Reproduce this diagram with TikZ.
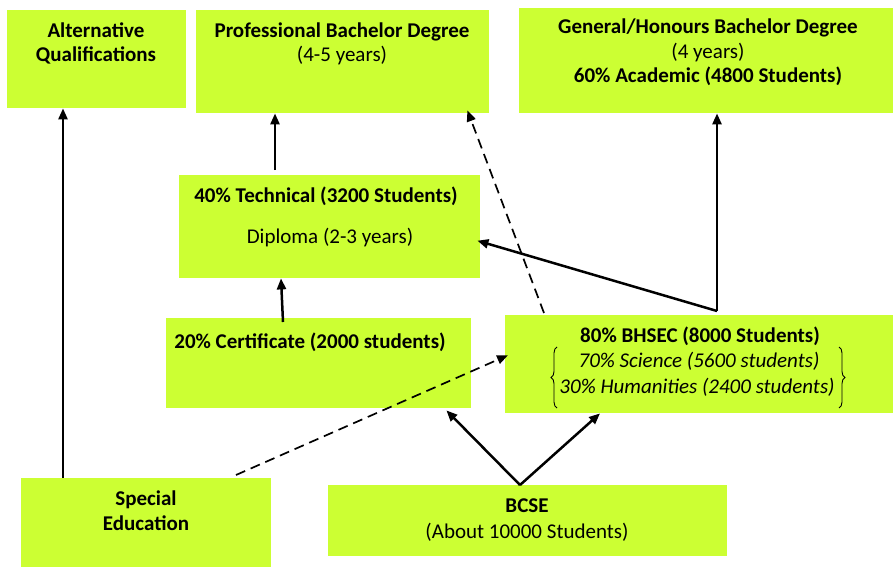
\documentclass[tikz,border=0pt]{standalone}
\usepackage{fontspec}
\setmainfont{Carlito}
\usetikzlibrary{arrows.meta,decorations.pathreplacing}
\definecolor{lime}{HTML}{CCFF33}
\begin{document}
\begin{tikzpicture}[x=1pt,y=-1pt,
 box/.style={fill=lime, draw=none, inner sep=0pt, anchor=north west},
 txt/.style={inner sep=0pt, anchor=base, font=\fontsize{21}{24}\selectfont},
 btxt/.style={txt, font=\fontsize{21}{24}\selectfont\bfseries},
 itxt/.style={txt, font=\fontsize{21}{24}\selectfont\itshape},
 arr/.style={line width=2.5pt, -{Triangle[length=11pt,width=9pt]}},
 darr/.style={line width=1.7pt, dash pattern=on 10pt off 6pt, -{Triangle[length=11pt,width=9pt]}},
 brc/.style={line width=0.9pt, decorate, decoration={brace, amplitude=6pt}}]
\useasboundingbox (0,0) rectangle (893,567);
% boxes
\node[box, minimum width=179pt, minimum height=98pt] (alt) at (7,10) {};
\node[box, minimum width=293pt, minimum height=103pt] (pbd) at (196,10) {};
\node[box, minimum width=374pt, minimum height=105pt] (gen) at (519,8) {};
\node[box, minimum width=301pt, minimum height=103pt] (tech) at (179,175) {};
\node[box, minimum width=305pt, minimum height=90pt] (cert) at (166,318) {};
\node[box, minimum width=388pt, minimum height=98pt] (bhsec) at (505,315) {};
\node[box, minimum width=250pt, minimum height=89pt] (spec) at (21,478) {};
\node[box, minimum width=399pt, minimum height=71pt] (bcse) at (328,485) {};
% texts
\node[btxt] (t1) at (96,38) {Alternative};
\node[btxt] (t2) at (96,62) {Qualifications};
\node[btxt] (t3) at (342,38) {Professional Bachelor Degree};
\node[txt] (t4) at (342,62) {(4-5 years)};
\node[btxt] (t5) at (708,34) {General/Honours Bachelor Degree};
\node[txt] (t6) at (708,59) {(4 years)};
\node[btxt] (t7) at (708,83) {60\% Academic (4800 Students)};
\node[btxt] (t8) at (326,202) {40\% Technical (3200 Students)};
\node[txt] (t9) at (330,243) {Diploma (2-3 years)};
\node[btxt] (t10) at (310,348) {20\% Certificate (2000 students)};
\node[btxt] (t11) at (700,342) {80\% BHSEC (8000 Students)};
\node[itxt] (t12) at (699,367) {70\% Science (5600 students)};
\node[itxt] (t13) at (697,393) {30\% Humanities (2400 students)};
\node[btxt] (t14) at (146,505) {Special};
\node[btxt] (t15) at (146,530) {Education};
\node[btxt] (t16) at (527,512) {BCSE};
\node[txt] (t17) at (527,538) {(About 10000 Students)};
% braces
\coordinate (bl1) at (557,408); \coordinate (bl2) at (557,347);
\coordinate (br1) at (839,347); \coordinate (br2) at (839,408);
\draw[brc] (bl1) -- (bl2);
\draw[brc] (br1) -- (br2);
% connectors
\coordinate (j) at ([xshift=212pt,yshift=4pt]bhsec.north west);
\coordinate (b) at ([xshift=192pt]bcse.north west);
\draw[arr] ([xshift=42pt]spec.north west) -- ([xshift=56pt]alt.south west);
\draw[arr] ([xshift=96pt,yshift=5pt]tech.north west) -- ([xshift=79pt]pbd.south west);
\draw[arr] ([xshift=117pt,yshift=-4pt]cert.north west) -- ([xshift=102pt]tech.south west);
\draw[arr] (j) -- ([xshift=198pt]gen.south west);
\draw[arr] (j) -- ([xshift=-3pt,yshift=-14pt]tech.east);
\draw[darr] ([xshift=39pt,yshift=2pt]bhsec.north west) -- ([xshift=-22pt,yshift=3pt]pbd.south east);
\draw[darr] ([xshift=215pt,yshift=3pt]spec.north west) -- ([xshift=3pt,yshift=9pt]bhsec.west);
\draw[arr] (b) -- ([xshift=-25pt,yshift=-2pt]cert.south east);
\draw[arr] (b) -- ([xshift=95pt]bhsec.south west);
\end{tikzpicture}
\end{document}
